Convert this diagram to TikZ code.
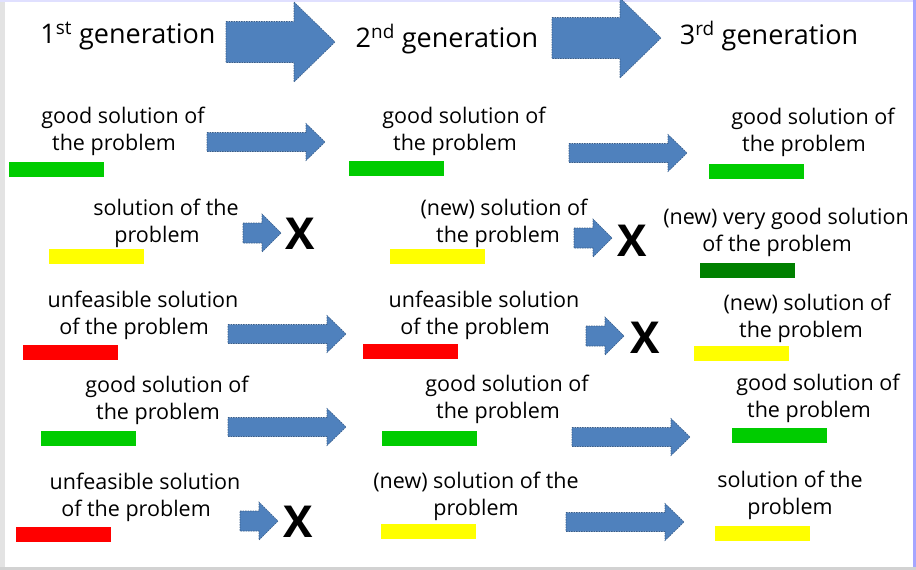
\documentclass[tikz,border=0pt]{standalone}
\usepackage{fontspec}
\setmainfont{Open Sans}
\usepackage{tikz}
\usetikzlibrary{positioning}
\definecolor{arrowblue}{RGB}{79,129,189}
\definecolor{arrowedge}{RGB}{56,93,138}
\definecolor{goodgreen}{RGB}{0,204,0}
\definecolor{bestgreen}{RGB}{0,128,0}
\definecolor{okyellow}{RGB}{255,255,0}
\definecolor{badred}{RGB}{255,0,0}
\tikzset{
  gentext/.style={font=\fontsize{27}{30}\selectfont, inner sep=0pt},
  soltext/.style={font=\fontsize{21.5}{27}\selectfont, align=center, inner sep=0pt},
  solbar/.style={minimum width=95pt, minimum height=15pt, inner sep=0pt},
  xmark/.style={font=\fontsize{44}{44}\selectfont\bfseries, inner sep=0pt},
  arrowbody/.style={fill=arrowblue, draw=arrowedge, line width=0.6pt, dash pattern=on 1.5pt off 1pt}
}
% block arrow: left x, tip x, middle y, half shaft, half head, head length
\newcommand{\blockarrow}[6]{%
  \filldraw[arrowbody] (#1,#3-#4) -- (#2-#6,#3-#4) -- (#2-#6,#3-#5) -- (#2,#3)
    -- (#2-#6,#3+#5) -- (#2-#6,#3+#4) -- (#1,#3+#4) -- cycle;}
% empty room after a second line, so that it sits a bit to the left
\newcommand{\linepad}[1]{\hbox to #1pt{}}

\begin{document}
\begin{tikzpicture}[x=1pt, y=-1pt]
  \useasboundingbox (0,0) rectangle (916,570);
  % frame
  \fill[white] (0,0) rectangle (916,570);
  \fill[gray!22] (0,0) rectangle (5,570);
  \fill[blue!12] (0,0) rectangle (916,2);
  \fill[blue!35] (913,0) rectangle (916,570);
  \fill[gray!35] (0,567) rectangle (916,570);

  % generations
  \node[gentext] (gen1) at (128,36) {1\textsuperscript{st} generation};
  \node[gentext] (gen2) at (447,39) {2\textsuperscript{nd} generation};
  \node[gentext] (gen3) at (769,36) {3\textsuperscript{rd} generation};
  \blockarrow{226}{335}{42}{20.5}{40}{41}
  \blockarrow{552}{661}{38}{20.5}{40}{41}

  % row 1
  \node[soltext] (s11) at (123,131) {good solution of\\the problem\linepad{18}};
  \node[soltext] (s12) at (464,131) {good solution of\\the problem\linepad{18}};
  \node[soltext] (s13) at (813,132.5) {good solution of\\the problem\linepad{18}};
  \node[solbar, fill=goodgreen] (b11) at (56,169) {};
  \node[solbar, fill=goodgreen] (b12) at (396,168.5) {};
  \node[solbar, fill=goodgreen] (b13) at (756,171.5) {};

  % row 2
  \node[soltext] (s21) at (166,223) {solution of the\\problem\linepad{18}};
  \node[soltext] (s22) at (504,223) {(new) solution of\\the problem\linepad{12}};
  \node[soltext] (s23) at (786,232) {(new) very good solution\\of the problem\linepad{18}};
  \node[solbar, fill=okyellow] (b21) at (96,256.5) {};
  \node[solbar, fill=okyellow] (b22) at (437,256.5) {};
  \node[solbar, fill=bestgreen] (b23) at (747.5,270.5) {};

  % row 3
  \node[soltext] (s31) at (143,315.5) {unfeasible solution\\of the problem\linepad{18}};
  \node[soltext] (s32) at (484,315) {unfeasible solution\\of the problem\linepad{18}};
  \node[soltext] (s33) at (807,318.5) {(new) solution of\\the problem\linepad{12}};
  \node[solbar, fill=badred] (b31) at (70.5,352.5) {};
  \node[solbar, fill=badred] (b32) at (410.5,351.5) {};
  \node[solbar, fill=okyellow] (b33) at (741,353.5) {};

  % row 4
  \node[soltext] (s41) at (167,400) {good solution of\\the problem\linepad{18}};
  \node[soltext] (s42) at (507,399) {good solution of\\the problem\linepad{18}};
  \node[soltext] (s43) at (818,398) {good solution of\\the problem\linepad{18}};
  \node[solbar, fill=goodgreen] (b41) at (88.5,438.5) {};
  \node[solbar, fill=goodgreen] (b42) at (429.5,438.5) {};
  \node[solbar, fill=goodgreen] (b43) at (779.5,435.5) {};

  % row 5
  \node[soltext] (s51) at (145,497) {unfeasible solution\\of the problem\linepad{18}};
  \node[soltext] (s52) at (476,496.5) {(new) solution of the\\problem};
  \node[soltext] (s53) at (790,495) {solution of the\\problem};
  \node[solbar, fill=badred] (b51) at (63.5,534.5) {};
  \node[solbar, fill=okyellow] (b52) at (428,531.5) {};
  \node[solbar, fill=okyellow] (b53) at (762,533.5) {};

  % long arrows
  \foreach \ax/\ay in {207/142, 569/153, 228/334, 228/427, 572/437, 566/522}
    \blockarrow{\ax}{\ax+118}{\ay}{9.5}{18.5}{19};
  % short arrows ending in a cross
  \foreach \ax/\ay in {243/233, 574/238, 586/336, 240/521}
    \blockarrow{\ax}{\ax+38}{\ay}{10}{19}{19};
  \node[xmark] (x2) at (300,234) {X};
  \node[xmark] (x2b) at (632,241) {X};
  \node[xmark] (x3b) at (645,338) {X};
  \node[xmark] (x5) at (298,522) {X};
\end{tikzpicture}
\end{document}
